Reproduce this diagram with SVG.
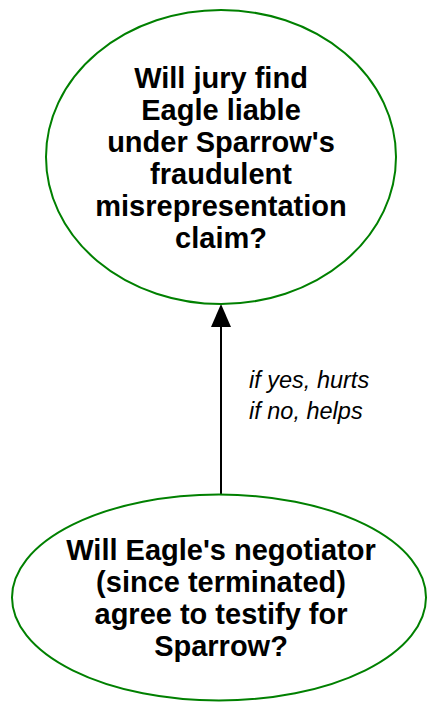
<svg xmlns="http://www.w3.org/2000/svg" width="427" height="702" viewBox="0 0 427 702">
<style>
.node{fill:#fff;stroke:#008000;stroke-width:2}
.t{font-family:"Liberation Sans",Arial,sans-serif;font-weight:bold;font-size:29px;text-anchor:middle;fill:#000}
.lbl{font-family:"Liberation Sans",Arial,sans-serif;font-style:italic;font-size:23.5px;fill:#000}
.edge{stroke:#000;stroke-width:2;fill:none}
</style>
<rect width="427" height="702" fill="#fff"/>
<g id="connectors">
<line class="edge" x1="221" y1="494" x2="221" y2="326"/>
<path d="M221,304 L231,327 L211,327 Z" fill="#000"/>
<text class="lbl" x="249" y="388">if yes, hurts</text>
<text class="lbl" x="249" y="419">if no, helps</text>
</g>
<g id="node-jury">
<ellipse class="node" cx="221" cy="157" rx="175" ry="147"/>
<text class="t" x="221" y="88">Will jury find</text>
<text class="t" x="221" y="120">Eagle liable</text>
<text class="t" x="221" y="152">under Sparrow's</text>
<text class="t" x="221" y="184">fraudulent</text>
<text class="t" x="221" y="216">misrepresentation</text>
<text class="t" x="221" y="248">claim?</text>
</g>
<g id="node-negotiator">
<ellipse class="node" cx="219" cy="597.5" rx="207" ry="103"/>
<text class="t" x="221" y="560">Will Eagle's negotiator</text>
<text class="t" x="221" y="592">(since terminated)</text>
<text class="t" x="221" y="624">agree to testify for</text>
<text class="t" x="221" y="656">Sparrow?</text>
</g>
</svg>
